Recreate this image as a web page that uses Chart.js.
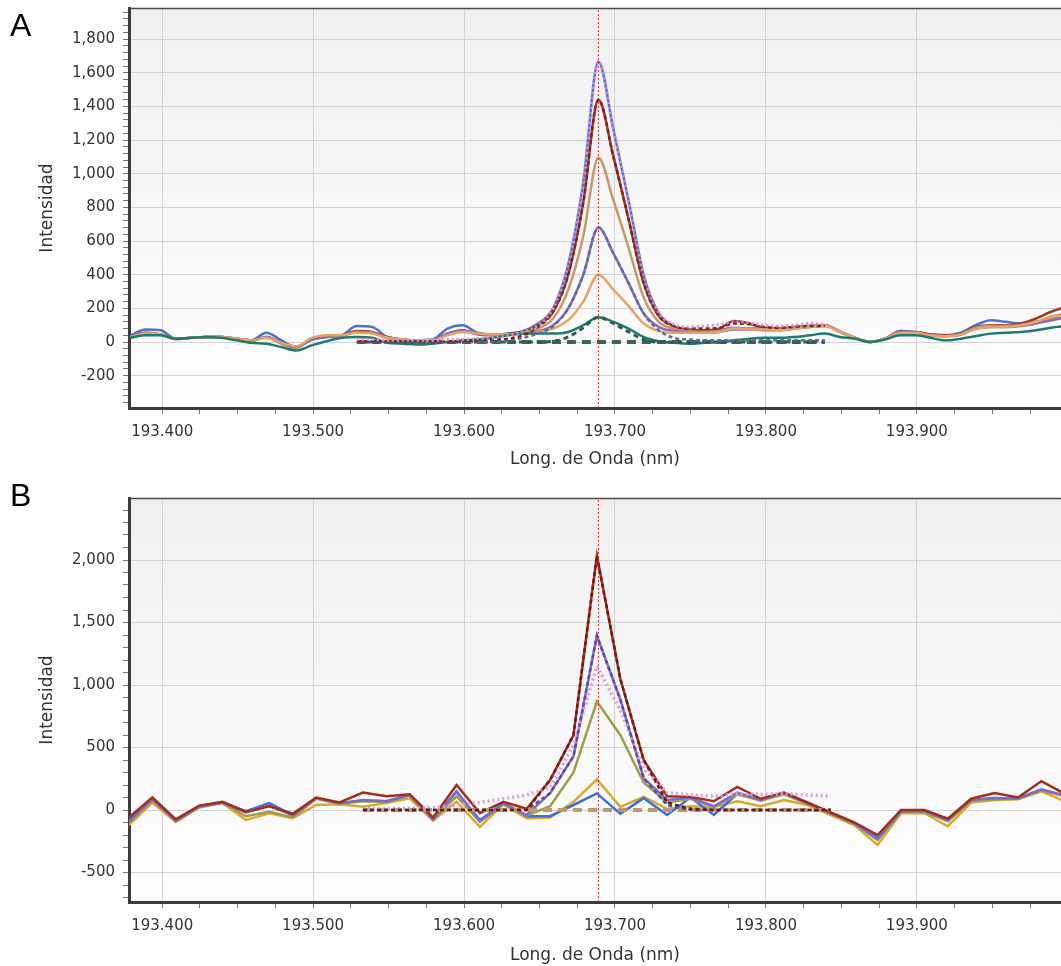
<!DOCTYPE html>
<html>
<head>
<meta charset="utf-8">
<title>Intensidad vs Long. de Onda</title>
<script src="https://cdn.jsdelivr.net/npm/chart.js@4.4.0/dist/chart.umd.min.js"></script>
<style>
  html, body { margin: 0; padding: 0; background: #fff; overflow: hidden; }
  #wrap { position: relative; width: 1061px; height: 966px; }
  #wrap canvas { position: absolute; left: 0; }
  .panel-tag { position: absolute; left: 10px; font: 32px "Liberation Sans", Arial, sans-serif; line-height: 32px; color: #000; }
</style>
</head>
<body>
<div id="wrap">
  <canvas id="chartA" width="1061" height="470" style="top:0"></canvas>
  <canvas id="chartB" width="1061" height="496" style="top:470px"></canvas>
  <div class="panel-tag" style="top:9px">A</div>
  <div class="panel-tag" style="top:479px">B</div>
</div>
<script>
// ---- Panel A data (nm, intensity) ----
const wavelengthA = [193.379, 193.389, 193.399, 193.409, 193.419, 193.429, 193.439, 193.449, 193.459, 193.469,
  193.479, 193.489, 193.499, 193.509, 193.519, 193.529, 193.539, 193.549, 193.559, 193.569,
  193.579, 193.589, 193.599, 193.609, 193.619, 193.629, 193.639, 193.649, 193.659, 193.669,
  193.679, 193.689, 193.699, 193.709, 193.719, 193.729, 193.739, 193.749, 193.759, 193.769,
  193.779, 193.789, 193.799, 193.809, 193.819, 193.829, 193.839, 193.849, 193.859, 193.869,
  193.879, 193.889, 193.899, 193.909, 193.919, 193.929, 193.939, 193.949, 193.959, 193.969,
  193.979, 193.989, 193.999];

const blueA   = [40, 75, 70, 20, 25, 30, 30, 20, 10, 55, 10, -30, 15, 30, 40, 95, 90, 30, 15, 10, 15, 80, 100, 55, 45, 50, 65, 110, 200, 460, 950, 1665, 1260, 840, 400, 170, 95, 70, 65, 70, 85, 80, 80, 75, 85, 95, 100, 60, 25, 0, 20, 65, 60, 45, 40, 55, 100, 130, 120, 110, 120, 150, 170];
const redA    = [35, 55, 45, 20, 25, 30, 30, 20, 10, 30, -5, -30, 15, 35, 40, 65, 60, 30, 15, 10, 10, 50, 70, 50, 45, 50, 62, 100, 180, 400, 830, 1440, 1100, 730, 350, 155, 95, 75, 70, 80, 125, 110, 85, 80, 90, 95, 100, 60, 25, 0, 20, 60, 60, 45, 40, 50, 90, 100, 100, 110, 140, 180, 210];
const tanA    = [30, 50, 45, 15, 25, 30, 30, 20, 10, 25, -10, -35, 20, 35, 40, 60, 55, 25, 15, 10, 10, 45, 65, 50, 45, 45, 55, 80, 140, 310, 630, 1095, 840, 560, 265, 120, 80, 65, 60, 65, 80, 80, 75, 75, 85, 95, 100, 65, 25, 0, 20, 55, 55, 40, 35, 45, 85, 95, 95, 100, 120, 140, 155];
const purpleA = [35, 55, 45, 20, 25, 30, 30, 15, 5, 30, -5, -30, 15, 30, 40, 60, 55, 25, 10, 5, 10, 50, 65, 45, 40, 45, 50, 65, 100, 200, 400, 680, 525, 350, 170, 90, 65, 60, 55, 60, 75, 75, 70, 70, 80, 90, 95, 60, 25, 0, 20, 55, 55, 40, 35, 45, 80, 90, 90, 95, 110, 130, 145];
const orangeA = [30, 50, 45, 20, 25, 30, 30, 20, 10, 25, -5, -25, 25, 40, 40, 55, 50, 25, 15, 10, 10, 40, 60, 50, 45, 45, 50, 60, 80, 130, 240, 400, 310, 215, 110, 65, 55, 55, 55, 60, 80, 75, 75, 70, 80, 90, 95, 60, 25, 0, 20, 55, 55, 40, 35, 45, 80, 90, 90, 100, 120, 150, 165];
const tealA   = [25, 40, 40, 20, 25, 30, 25, 10, -5, -10, -30, -50, -20, 5, 25, 30, 25, -5, -10, -15, -10, 0, 10, 15, 25, 40, 50, 50, 50, 60, 100, 148, 120, 80, 30, 5, -5, -10, -5, 0, 10, 20, 25, 25, 30, 40, 50, 30, 20, 0, 15, 40, 40, 25, 10, 20, 35, 50, 55, 60, 70, 85, 95];

// fitted curves only cover 193.529 - 193.839
const fitWavelengthA = wavelengthA.slice(15, 47);
const pinkFitA   = [15, 15, 10, 10, 10, 10, 15, 15, 20, 25, 40, 60, 100, 200, 460, 950, 1665, 1260, 840, 400, 175, 105, 90, 95, 105, 120, 115, 100, 95, 100, 110, 105];
const redFitA    = [5, 5, 5, 5, 5, 5, 5, 5, 10, 15, 20, 40, 90, 180, 400, 830, 1440, 1100, 730, 350, 155, 95, 80, 80, 85, 110, 105, 90, 85, 90, 95, 95];
const purpleFitA = [0, 0, 0, 0, 0, 0, 0, 0, 0, 0, 10, 25, 50, 95, 200, 400, 680, 525, 350, 170, 70, 25, 15, 10, 10, 10, 10, 10, 10, 10, 10, 10];
const tealFitA   = [0, 0, 0, 0, 0, 0, 0, 0, 0, 0, 0, 0, 0, 5, 30, 85, 148, 110, 60, 15, 0, 0, 0, 0, 0, 0, 0, 0, 0, 0, 0, 0];
const baseFitA   = [0, 0, 0, 0, 0, 0, 0, 0, 0, 0, 0, 0, 0, 0, 0, 0, 0, 0, 0, 0, 0, 0, 0, 0, 0, 0, 0, 0, 0, 0, 0, 0];

// ---- Panel B data ----
const wavelengthB = [193.378, 193.3935, 193.409, 193.4245, 193.44, 193.4555, 193.471, 193.4865, 193.502, 193.5175,
  193.533, 193.5485, 193.564, 193.5795, 193.595, 193.6105, 193.626, 193.6415, 193.657, 193.6725,
  193.688, 193.7035, 193.719, 193.7345, 193.75, 193.7655, 193.781, 193.7965, 193.812, 193.8275,
  193.843, 193.8585, 193.874, 193.8895, 193.905, 193.9205, 193.936, 193.9515, 193.967, 193.9825, 193.998];

const redB    = [-60, 100, -75, 35, 65, -15, 30, -30, 100, 60, 140, 110, 125, -60, 200, -25, 65, 10, 240, 600, 2035, 1050, 400, 110, 105, 70, 185, 90, 140, 60, -20, -100, -200, 0, 0, -70, 90, 135, 100, 230, 130];
const purpleB = [-90, 85, -85, 27, 60, -20, 40, -45, 95, 55, 80, 70, 120, -75, 150, -90, 55, -40, 135, 430, 1395, 885, 255, 80, 100, 30, 140, 80, 135, 55, -25, -105, -230, -10, -10, -80, 80, 95, 95, 165, 115];
const oliveB  = [-100, 80, -90, 25, 58, -50, -15, -60, 90, 50, 70, 65, 115, -80, 110, -95, 50, -45, 30, 300, 867, 600, 220, 60, 90, 25, 125, 75, 125, 50, -30, -110, -240, -15, -15, -90, 75, 85, 90, 160, 110];
const goldB   = [-120, 60, -95, 20, 55, -80, -27, -65, 40, 45, 27, 55, 93, -85, 67, -135, 45, -65, -60, 65, 246, 25, 105, 10, 30, 25, 70, 30, 80, 40, -40, -120, -280, -25, -25, -130, 60, 80, 85, 150, 70];
const blueB   = [-80, 90, -80, 30, 60, -10, 55, -40, 95, 55, 75, 70, 120, -70, 147, -80, 55, -50, -50, 40, 133, -30, 95, -40, 100, -40, 130, 80, 135, 55, -25, -105, -220, -10, -10, -80, 80, 95, 90, 160, 115];

const fitWavelengthB = wavelengthB.slice(10, 31);
const pinkFitB   = [10, 10, 15, 20, 40, 60, 90, 120, 180, 520, 1150, 800, 330, 140, 120, 110, 130, 125, 130, 120, 110];
const redFitB    = [0, 0, 0, 0, 0, 0, 0, 0, 240, 600, 2035, 1050, 400, 60, 10, 0, 0, 0, 0, 0, 0];
const purpleFitB = [0, 0, 0, 0, 0, 0, 0, 0, 135, 430, 1395, 885, 255, 40, 0, 0, 0, 0, 0, 0, 0];
const baseFitB   = [0, 0, 0, 0, 0, 0, 0, 0, 0, 0, 0, 0, 0, 0, 0, 0, 0, 0, 0, 0, 0];

// axis ranges and ticks
const markerNm = 193.689;
const xMin = 193.378, xMax = 193.9955;
const yRangeA = [-392, 1985];
const yRangeB = [-736, 2496];
const xTickStep = 0.025, yTickStepA = 40, yTickStepB = 100;
const xMajor = 0.1, yMajorA = 200, yMajorB = 500;

function isMultiple(v, step) {
    const q = v / step;
    return Math.abs(q - Math.round(q)) < 1e-6;
}

function tickList(min, max, step) {
    const out = [];
    for (let v = Math.ceil(min / step - 1e-9) * step; v <= max + 1e-9; v += step) {
        out.push(Math.round(v * 1000) / 1000);
    }
    return out;
}

function series(xs, ys, color, width, dash, smooth) {
    return {
        data: xs.map((x, i) => ({ x: x, y: ys[i] })),
        borderColor: color,
        borderWidth: width,
        borderDash: dash || [],
        pointRadius: 0,
        fill: false,
        tension: smooth ? 0.4 : 0,
        cubicInterpolationMode: smooth ? 'monotone' : 'default'
    };
}

function markerLine(range) {
    return {
        data: [{ x: markerNm, y: range[0] }, { x: markerNm, y: range[1] }],
        borderColor: '#e0242a',
        borderWidth: 1,
        borderDash: [2, 2],
        pointRadius: 0,
        tension: 0
    };
}

const plotFrame = {
    id: 'plotFrame',
    beforeDraw(chart) {
        const { ctx, chartArea: a } = chart;
        const g = ctx.createLinearGradient(0, a.top, 0, a.bottom);
        g.addColorStop(0, '#f0f0f0');
        g.addColorStop(1, '#fdfdfd');
        ctx.save();
        ctx.fillStyle = g;
        ctx.fillRect(a.left, a.top, a.right - a.left, a.bottom - a.top);
        ctx.restore();
    },
    afterDraw(chart) {
        const { ctx, chartArea: a } = chart;
        ctx.save();
        ctx.strokeStyle = '#4a4a4a';
        ctx.lineWidth = 1.5;
        ctx.beginPath();
        ctx.moveTo(a.left, a.top + 0.5);
        ctx.lineTo(a.right, a.top + 0.5);
        ctx.stroke();
        ctx.restore();
    }
};

function buildOptions(yRange, yStep, yMajor, topPad, xAxisHeight) {
    const tickFont = { family: '"DejaVu Sans", Verdana, sans-serif', size: 15 };
    const titleFont = { family: '"DejaVu Sans", Verdana, sans-serif', size: 17 };
    return {
        responsive: false,
        animation: false,
        layout: { padding: { left: 0, right: 0, top: topPad, bottom: 0 } },
        plugins: { legend: { display: false }, tooltip: { enabled: false } },
        scales: {
            x: {
                type: 'linear',
                min: xMin,
                max: xMax,
                bounds: 'data',
                afterBuildTicks: s => { s.ticks = tickList(xMin, xMax, xTickStep).map(v => ({ value: v })); },
                afterFit: s => { s.height = xAxisHeight; s.paddingLeft = 0; s.paddingRight = 0; },
                ticks: {
                    autoSkip: false,
                    maxRotation: 0,
                    padding: 9,
                    color: '#333',
                    font: tickFont,
                    callback: v => isMultiple(v, xMajor) ? Number(v).toFixed(3) : ''
                },
                grid: {
                    color: c => (c.tick && isMultiple(c.tick.value, xMajor)) ? '#d2d2d2' : 'rgba(0,0,0,0)',
                    tickColor: '#777',
                    tickLength: 6,
                    lineWidth: 1
                },
                border: { display: true, color: '#3c3c3c', width: 3 },
                title: { display: true, text: 'Long. de Onda (nm)', color: '#333', font: titleFont, padding: { top: 0, bottom: 0 } }
            },
            y: {
                type: 'linear',
                min: yRange[0],
                max: yRange[1],
                bounds: 'data',
                afterBuildTicks: s => { s.ticks = tickList(yRange[0], yRange[1], yStep).map(v => ({ value: v })); },
                afterFit: s => { s.width = 129; s.paddingTop = 0; s.paddingBottom = 0; },
                ticks: {
                    autoSkip: false,
                    padding: 8,
                    color: '#333',
                    font: tickFont,
                    callback: v => isMultiple(v, yMajor) ? Number(v).toLocaleString('en-US') : ''
                },
                grid: {
                    color: c => (c.tick && isMultiple(c.tick.value, yMajor)) ? '#d2d2d2' : 'rgba(0,0,0,0)',
                    tickColor: '#777',
                    tickLength: 6,
                    lineWidth: 1
                },
                border: { display: true, color: '#3c3c3c', width: 3 },
                title: { display: true, text: 'Intensidad', color: '#333', font: titleFont, padding: { top: 37, bottom: 0 } }
            }
        }
    };
}

// Panel A
try {
    const ctxA = document.getElementById('chartA').getContext('2d');
    new Chart(ctxA, {
        type: 'line',
        data: {
            datasets: [
                markerLine(yRangeA),
                series(fitWavelengthA, pinkFitA, '#d68ee0', 3, [2, 3], true),
                series(fitWavelengthA, redFitA, '#7e2418', 2.5, [4, 3], true),
                series(fitWavelengthA, purpleFitA, '#5f6aa0', 2.5, [4, 3], true),
                series(fitWavelengthA, tealFitA, '#2f5a55', 3, [5, 4], true),
                series(fitWavelengthA, baseFitA, '#3d6452', 4, [9, 6], false),
                series(wavelengthA, tealA, '#1f7b6e', 2.5, null, true),
                series(wavelengthA, orangeA, '#e6a464', 2.5, null, true),
                series(wavelengthA, purpleA, '#8a6ab8', 2.5, null, true),
                series(wavelengthA, tanA, '#c29a6c', 2.5, null, true),
                series(wavelengthA, redA, '#a3392a', 2.5, null, true),
                series(wavelengthA, blueA, '#4f73c6', 2.5, null, true)
            ]
        },
        options: buildOptions(yRangeA, yTickStepA, yMajorA, 8, 62),
        plugins: [plotFrame]
    });
} catch (error) {
    console.error('Error initializing chart A:', error);
}

// Panel B
try {
    const ctxB = document.getElementById('chartB').getContext('2d');
    new Chart(ctxB, {
        type: 'line',
        data: {
            datasets: [
                markerLine(yRangeB),
                series(fitWavelengthB, redFitB, '#6e1a10', 2.5, [4, 3], false),
                series(fitWavelengthB, purpleFitB, '#5a4c98', 2.5, [4, 3], false),
                series(fitWavelengthB, pinkFitB, '#d99ee2', 3.5, [2, 3], false),
                series(fitWavelengthB, baseFitB, '#b89a70', 4, [9, 6], false),
                series(wavelengthB, redB, '#a02e1e', 2.5, null, false),
                series(wavelengthB, purpleB, '#7a6cc8', 2.5, null, false),
                series(wavelengthB, oliveB, '#9e9e48', 2.5, null, false),
                series(wavelengthB, blueB, '#3d6fd6', 2.5, null, false),
                series(wavelengthB, goldB, '#d8a830', 2.5, null, false)
            ]
        },
        options: buildOptions(yRangeB, yTickStepB, yMajorB, 28, 64),
        plugins: [plotFrame]
    });
} catch (error) {
    console.error('Error initializing chart B:', error);
}
</script>
</body>
</html>
